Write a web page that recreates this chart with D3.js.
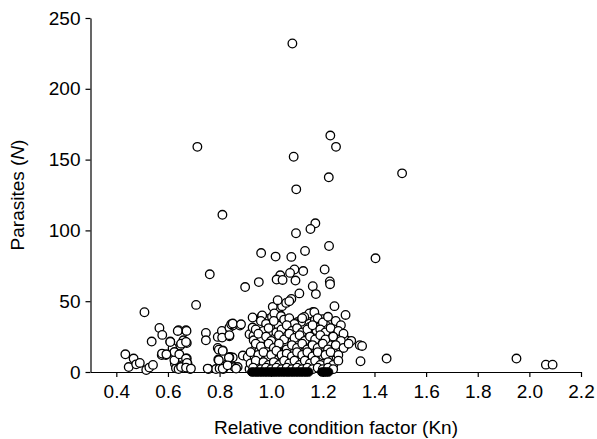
<!DOCTYPE html>
<meta charset="utf-8">
<head>
  <title>Parasites vs Kn</title>
</head>
<style>
body { margin: 0; background: #fff; }
svg { font-family: "Liberation Sans", Arial, Helvetica, sans-serif; }
.axis path, .axis line { stroke: #000; stroke-width: 1.2px; }
.axis text { font-size: 19px; fill: #000; }
.open { fill: #fff; stroke: #000; stroke-width: 1.3px; }
.zero { fill: #000; stroke: #000; stroke-width: 1px; }
</style>
<body>
<script src="https://cdn.jsdelivr.net/npm/d3@7"></script>
<script>

// Kn and parasite counts
var knOpen = [
  1.082, 0.714, 1.087, 1.097, 0.811, 1.229, 1.251, 1.223, 1.507,
  1.171, 1.152, 1.096, 1.224, 0.961, 1.131, 1.017, 1.078, 1.404,
  1.207, 1.090, 1.124, 1.073, 1.035, 0.762, 1.021, 1.044, 0.952, 1.094, 1.227, 1.228, 1.161, 0.899,
  1.109, 1.173, 0.709, 1.245, 1.042, 1.006, 1.058, 1.025, 1.078, 1.070, 0.509, 1.288, 1.036, 1.162, 1.143, 1.148, 1.167,
  0.435, 0.467, 0.448, 0.477, 0.491, 0.516, 0.528, 0.542, 0.537, 0.567, 0.578, 0.576, 0.592, 0.609, 0.618, 0.622,
  0.627, 0.631, 0.641, 0.648, 0.648, 0.641, 0.651, 0.660, 0.670, 0.673, 0.673, 0.676, 0.686, 0.747, 0.747, 0.757,
  0.793, 0.793, 0.786, 0.809, 0.812, 0.795, 0.814, 0.831, 0.838, 0.838, 0.841, 0.851, 0.851, 0.857, 0.870, 0.879,
  0.890, 0.916, 0.909, 0.916, 0.928, 0.928, 0.931, 0.932, 0.935, 0.936, 0.941, 0.963, 0.962, 0.954, 0.963, 0.971,
  0.985, 0.989, 0.990, 1.003, 1.013, 1.028, 1.019, 1.027, 1.044, 1.051, 1.060, 1.064, 1.071, 1.083, 1.103, 1.103,
  0.625, 0.625, 0.644, 0.670, 0.674, 0.670, 0.689, 0.609, 0.651, 0.670, 0.638, 0.672, 0.577, 0.594, 0.754, 0.800,
  0.797, 0.812, 0.810, 0.838, 0.838, 0.797, 0.836, 0.845, 0.812, 0.831, 0.864,
  1.343, 1.352, 1.346, 1.447, 1.950, 2.064, 2.090,
  1.259, 1.291, 1.285, 1.240, 1.227, 1.175, 1.169, 1.188, 1.149, 1.136, 1.130, 1.159, 1.200, 1.227, 1.253, 1.240,
  1.117, 1.200, 1.217, 1.211, 1.246, 0.851, 0.883, 0.965, 1.012, 1.038, 1.128, 1.116,
  0.96, 0.98, 1.01, 1.05, 1.07, 1.09, 1.12, 1.18, 1.20, 1.22, 1.25, 1.27,
  0.94, 0.97, 0.99, 1.02, 1.04, 1.06, 1.08, 1.10, 1.12, 1.14, 1.16, 1.19, 1.21, 1.23, 1.26, 1.28,
  0.95, 0.98, 1.00, 1.03, 1.05, 1.07, 1.09, 1.11, 1.13, 1.15, 1.17, 1.19, 1.21, 1.24, 1.27, 1.31,
  0.94, 0.96, 0.99, 1.01, 1.03, 1.06, 1.08, 1.10, 1.12, 1.14, 1.16, 1.18, 1.20, 1.22, 1.25, 1.28, 1.30,
  0.92, 0.95, 0.97, 1.00, 1.02, 1.04, 1.06, 1.08, 1.10, 1.12, 1.14, 1.16, 1.18, 1.21, 1.23, 1.26,
  0.92, 0.94, 0.97, 0.99, 1.01, 1.03, 1.05, 1.07, 1.09, 1.11, 1.13, 1.15, 1.17, 1.19, 1.22, 1.24, 1.26,
  0.93, 0.96, 0.98, 1.00, 1.02, 1.04, 1.06, 1.08, 1.10, 1.12, 1.14, 1.16, 1.18, 1.20, 1.22, 1.24
];
var nOpen = [
  232, 159, 152, 129, 111, 167, 159, 137.5, 140.3,
  105, 101, 98, 89, 84, 85.5, 81.5, 81.3, 80.3,
  72.4, 72.4, 71.3, 70, 68.3, 69, 65.3, 65, 63.5, 64.6, 63.9, 62, 60.6, 60,
  55.5, 55, 47.4, 46.5, 46.5, 46, 48.8, 50.7, 51.6, 50, 42.2, 40.3, 40, 42.4, 40.1, 41.3, 42.2,
  12.5, 9.5, 3.5, 5.4, 6.4, 1.4, 3.1, 5, 21.5, 31.1, 26.2, 12, 12, 21.5, 16.8, 13,
  5.9, 2.6, 29.5, 18.7, 10.6, 2.1, 3.5, 22.4, 29.5, 20.5, 9.5, 5.9, 2.1, 27.6, 22.4, 2.1,
  24.8, 17, 2.1, 29, 15.3, 8.8, 2.1, 5.9, 31.4, 25.2, 10.6, 32.8, 10.2, 3.5, 3.5, 32.8,
  11.6, 26.7, 10.6, 2.1, 38.5, 31.4, 25.5, 22.4, 15.3, 10.2, 5.9, 39.2, 23.6, 15.3, 8.3, 3.5,
  17.7, 10.6, 37.5, 38.9, 23.8, 32.8, 8.3, 14.4, 10.2, 18.9, 26, 8.3, 3.5, 15.3, 35.4, 22.4,
  8.3, 14.1, 12.5, 9.5, 6.4, 3.1, 2.4, 21.2, 20, 21.2, 29, 29, 13, 12.5, 2.4, 2.4,
  15.8, 14.9, 24.3, 26, 10.2, 8.3, 10.2, 33.7, 2.4, 4.7, 2.4,
  18.9, 18.4, 7.6, 9.5, 9.5, 5.2, 5.2,
  23.6, 22.4, 18.9, 23.6, 18.9, 29.5, 36.6, 24.8, 31.8, 27.2, 18.9, 11.8, 11.8, 8.3, 10.6, 14.1,
  37.1, 37.3, 35.4, 33, 31.4, 34.2, 33.7, 39.9, 41.3, 39.4, 38.9, 35.4,
  36, 34, 36, 37, 38, 34, 38, 38, 35, 39, 36, 33,
  30, 29, 31, 28, 30, 33, 29, 31, 28, 30, 33, 30, 28, 31, 29, 27,
  27, 25, 22, 26, 23, 27, 24, 26, 22, 25, 23, 26, 23, 25, 22, 22,
  20, 18, 20, 17, 20, 16, 19, 17, 20, 16, 19, 17, 20, 16, 19, 17, 20,
  14, 12, 14, 12, 15, 12, 13, 11, 14, 12, 14, 11, 14, 12, 14, 12,
  6, 8, 7, 5, 7, 5, 8, 6, 8, 5, 8, 6, 8, 5, 7, 5, 8,
  3, 2, 3, 2, 3, 2, 3, 2, 3, 2, 3, 2, 3, 2, 3, 2
];
// fish with no parasites (filled symbols)
var knZero = [
  0.925, 0.935, 0.945, 0.955, 0.965, 0.975, 0.985, 0.995, 1.005, 1.015, 1.025,
  1.035, 1.045, 1.055, 1.065, 1.075, 1.085, 1.095, 1.105, 1.115, 1.125, 1.135, 1.145,
  1.196, 1.205, 1.213, 1.222
];
var xTicks = [0.4, 0.6, 0.8, 1.0, 1.2, 1.4, 1.6, 1.8, 2.0, 2.2];
var yTicks = [0, 50, 100, 150, 200, 250];

var width = 597,
    height = 439;

var svg = d3.select("body").append("svg")
    .attr("width", width)
    .attr("height", height);

var x = d3.scaleLinear().domain([0.3, 2.2]).range([90.5, 581]);
var y = d3.scaleLinear().domain([0, 250]).range([372, 18]);

var xAxis = svg.append("g")
    .attr("class", "axis")
    .attr("transform", "translate(0," + y(0) + ")")
    .call(d3.axisBottom(x).tickValues(xTicks).tickFormat(d3.format(".1f"))
      .tickSize(5).tickSizeOuter(0).tickPadding(5));

var yAxis = svg.append("g")
    .attr("class", "axis")
    .attr("transform", "translate(" + x(0.3) + ",0)")
    .call(d3.axisLeft(y).tickValues(yTicks).tickSize(5).tickSizeOuter(0).tickPadding(5));

xAxis.selectAll("text").attr("dy", "0.85em");

// axis titles
svg.append("text")
    .attr("x", 336)
    .attr("y", 434)
    .attr("text-anchor", "middle")
    .style("font-size", "19px")
    .text("Relative condition factor (Kn)");

var yt = svg.append("text")
    .attr("transform", "translate(24,195) rotate(-90)")
    .attr("text-anchor", "middle")
    .style("font-size", "19px");
yt.append("tspan").text("Parasites (");
yt.append("tspan").style("font-style", "italic").text("N");
yt.append("tspan").text(")");

var pts = knOpen.map(function(d, i) { return {kn: d, n: nOpen[i]}; });

svg.append("g").selectAll("circle")
    .data(pts)
    .enter().append("circle")
    .attr("class", "open")
    .attr("cx", function(d) { return x(d.kn); })
    .attr("cy", function(d) { return y(d.n); })
    .attr("r", 4.3);

svg.append("g").selectAll("circle")
    .data(knZero)
    .enter().append("circle")
    .attr("class", "zero")
    .attr("cx", function(d) { return x(d); })
    .attr("cy", y(0))
    .attr("r", 4.3);

</script>
</body>
